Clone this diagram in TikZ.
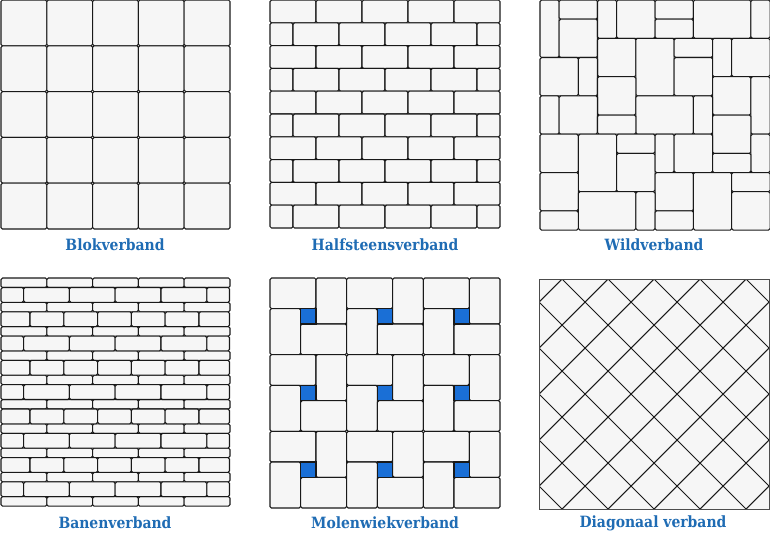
\documentclass[tikz,border=0pt]{standalone}
\usepackage{fontspec}
\setmainfont{DejaVu Serif Condensed}
\definecolor{tilegray}{HTML}{F6F6F6}
\definecolor{tileblue}{HTML}{1A6FD6}
\definecolor{labelblue}{HTML}{1F6CB4}
\tikzset{
  tile/.style={draw=black!90, fill=tilegray, line width=1.05pt, rounded corners=1.5pt},
  gap/.style={draw=black!90, fill=tileblue, line width=1.05pt},
  caption/.style={text=labelblue, font=\bfseries\fontsize{15.5}{18}\selectfont}
}
\begin{document}
\begin{tikzpicture}[x=1pt, y=-1pt]
      \useasboundingbox[fill=white] (0,0) rectangle (770,558);

      % Blokverband: 5 x 5 squares
      \foreach \i in {0,...,4}
        \foreach \j in {0,...,4}
          \draw[tile] (1+45.8*\i, 45.8*\j) rectangle ++(45.8,45.8);
      \node[caption] (blok) at (115,245) {Blokverband};

      % Halfsteensverband: rows shifted by half a brick
      \foreach \j in {0,2,...,8} {
        \foreach \i in {0,...,4}
          \draw[tile] (270+46*\i, 22.8*\j) rectangle ++(46,22.8);
        \draw[tile] (270, 22.8*\j+22.8) rectangle ++(23,22.8);
        \foreach \i in {0,...,3}
          \draw[tile] (293+46*\i, 22.8*\j+22.8) rectangle ++(46,22.8);
        \draw[tile] (477, 22.8*\j+22.8) rectangle ++(23,22.8);
      }
      \node[caption] (halfsteens) at (385,245) {Halfsteensverband};

      % Wildverband: x/y/w/h on a 12 x 12 grid
      \foreach \x/\y/\w/\h in {
          0/0/1/3, 1/0/2/1, 1/1/2/2, 3/0/1/2, 4/0/2/2, 6/0/2/1, 6/1/2/1,
          8/0/3/2, 11/0/1/2, 3/2/2/2, 5/2/2/3, 7/2/2/1, 7/3/2/2, 9/2/1/2,
          10/2/2/2, 0/3/2/2, 2/3/1/2, 3/4/2/2, 9/4/2/2, 11/4/1/3, 0/5/1/2,
          1/5/2/2, 5/5/3/2, 8/5/1/2, 3/6/2/1, 9/6/2/2, 0/7/2/2, 2/7/2/3,
          4/7/2/1, 4/8/2/2, 6/7/1/2, 7/7/2/2, 11/7/1/2, 9/8/2/1, 0/9/2/2,
          6/9/2/2, 8/9/2/3, 10/9/2/1, 2/10/3/2, 5/10/1/2, 10/10/2/2,
          0/11/2/1, 6/11/2/1}
        \draw[tile] (540+19.17*\x, 19.17*\y) rectangle ++(19.17*\w, 19.17*\h);
      \node[caption] (wild) at (654,245) {Wildverband};

      % Banenverband: thin and thick courses
      \foreach \p in {0,...,9} {
        \foreach \i in {0,...,4}
          \draw[tile] (1+45.8*\i, 278+24.3*\p) rectangle ++(45.8,9.5);
      }
      \foreach \p in {0,2,...,8} {
        \draw[tile] (1, 287.5+24.3*\p) rectangle ++(22.6,14.8);
        \foreach \i in {0,...,3}
          \draw[tile] (23.6+45.8*\i, 287.5+24.3*\p) rectangle ++(45.8,14.8);
        \draw[tile] (206.8, 287.5+24.3*\p) rectangle ++(22.7,14.8);
      }
      \foreach \p in {1,3,...,7} {
        \draw[tile] (1, 287.5+24.3*\p) rectangle ++(29,14.8);
        \foreach \i in {0,...,4}
          \draw[tile] (30+33.8*\i, 287.5+24.3*\p) rectangle ++(33.8,14.8);
        \draw[tile] (199, 287.5+24.3*\p) rectangle ++(30.5,14.8);
      }
      \node[caption] (banen) at (115,523) {Banenverband};

      % Molenwiekverband: 3 x 3 pinwheels
      \foreach \i in {0,...,2}
        \foreach \j in {0,...,2} {
          \begin{scope}[shift={(270+76.67*\i, 278+76.67*\j)}]
            \draw[tile] (0,0) rectangle (46,30.67);
            \draw[tile] (46,0) rectangle (76.67,46);
            \draw[tile] (0,30.67) rectangle (30.67,76.67);
            \draw[tile] (30.67,46) rectangle (76.67,76.67);
            \draw[gap] (30.67,30.67) rectangle (46,46);
          \end{scope}
        }
      \node[caption] (molenwiek) at (385,523) {Molenwiekverband};

      % Diagonaal verband: square tiles turned by 45 degrees
      \fill[tilegray] (539,279) rectangle (769,509);
      \begin{scope}
        \clip (539,279) rectangle (769,509);
        \foreach \k in {0,...,9} {
          \draw[black!90, line width=1.05pt] (539+23+46*\k+250, 279-250) -- ++(-500,500);
          \draw[black!90, line width=1.05pt] (539-207+46*\k-250, 279-250) -- ++(500,500);
        }
      \end{scope}
      \draw[black!70, line width=0.6pt] (539,279) rectangle (769,509);
      \node[caption] (diagonaal) at (653,523) {Diagonaal verband};
    \end{tikzpicture}
\end{document}
